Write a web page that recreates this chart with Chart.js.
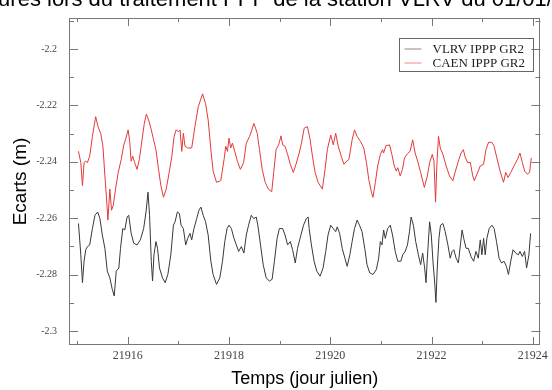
<!DOCTYPE html>
<html>
<head>
<meta charset="utf-8">
<script src="https://cdn.jsdelivr.net/npm/chart.js@4.4.1/dist/chart.umd.min.js"></script>
<style>
  html, body { margin: 0; padding: 0; background: #fff; }
  #wrap { width: 552px; height: 390px; overflow: hidden; }
</style>
</head>
<body>
<div id="wrap"><canvas id="ecarts" width="552" height="390"></canvas></div>
<script>
// series labels
var seriesNames = ['VLRV IPPP GR2', 'CAEN IPPP GR2'];
var seriesColors = ['#383838', '#e23a3a'];

// VLRV (black) - julian day / ecart (m)
var vlrvDays = [21915.027, 21915.073, 21915.106, 21915.137, 21915.171, 21915.204, 21915.249, 21915.302, 21915.353, 21915.406,
  21915.451, 21915.498, 21915.549, 21915.596, 21915.647, 21915.694, 21915.733, 21915.773, 21915.824, 21915.857,
  21915.902, 21915.941, 21915.988, 21916.020, 21916.067, 21916.118, 21916.184, 21916.249, 21916.314, 21916.361,
  21916.400, 21916.431, 21916.465, 21916.490, 21916.518, 21916.557, 21916.588, 21916.627, 21916.686, 21916.739,
  21916.792, 21916.851, 21916.902, 21916.935, 21916.980, 21917.020, 21917.053, 21917.098, 21917.145, 21917.184,
  21917.229, 21917.263, 21917.308, 21917.361, 21917.406, 21917.445, 21917.490, 21917.537, 21917.588, 21917.641,
  21917.686, 21917.753, 21917.818, 21917.871, 21917.916, 21917.961, 21918.000, 21918.047, 21918.098, 21918.145,
  21918.190, 21918.243, 21918.294, 21918.341, 21918.386, 21918.439, 21918.490, 21918.537, 21918.569, 21918.622,
  21918.675, 21918.733, 21918.798, 21918.851, 21918.896, 21918.949, 21918.994, 21919.059, 21919.106, 21919.157,
  21919.210, 21919.255, 21919.308, 21919.353, 21919.420, 21919.471, 21919.524, 21919.563, 21919.582, 21919.627,
  21919.680, 21919.733, 21919.798, 21919.857, 21919.910, 21919.955, 21920.008, 21920.059, 21920.106, 21920.137,
  21920.184, 21920.235, 21920.288, 21920.333, 21920.386, 21920.431, 21920.478, 21920.529, 21920.576, 21920.627,
  21920.680, 21920.725, 21920.778, 21920.843, 21920.910, 21920.955, 21920.988, 21921.020, 21921.053, 21921.086,
  21921.131, 21921.184, 21921.229, 21921.282, 21921.333, 21921.392, 21921.431, 21921.478, 21921.524, 21921.563,
  21921.596, 21921.641, 21921.686, 21921.739, 21921.784, 21921.824, 21921.863, 21921.890, 21921.916, 21921.961,
  21921.994, 21922.027, 21922.059, 21922.086, 21922.112, 21922.145, 21922.176, 21922.224, 21922.269, 21922.322,
  21922.367, 21922.406, 21922.439, 21922.484, 21922.529, 21922.569, 21922.602, 21922.635, 21922.680, 21922.725,
  21922.778, 21922.831, 21922.876, 21922.922, 21922.961, 21922.994, 21923.027, 21923.059, 21923.092, 21923.137,
  21923.190, 21923.235, 21923.282, 21923.333, 21923.380, 21923.431, 21923.478, 21923.518, 21923.563, 21923.608,
  21923.661, 21923.714, 21923.745, 21923.792, 21923.837, 21923.876, 21923.922, 21923.955];
var vlrvValues = [-2.2619, -2.2730, -2.2829, -2.2753, -2.2712, -2.2701, -2.2695, -2.2637, -2.2590, -2.2578,
  -2.2602, -2.2660, -2.2707, -2.2788, -2.2812, -2.2852, -2.2876, -2.2788, -2.2777, -2.2707,
  -2.2637, -2.2642, -2.2596, -2.2590, -2.2654, -2.2689, -2.2695, -2.2677, -2.2637, -2.2578,
  -2.2508, -2.2590, -2.2753, -2.2823, -2.2730, -2.2683, -2.2707, -2.2777, -2.2812, -2.2829,
  -2.2800, -2.2730, -2.2625, -2.2613, -2.2578, -2.2584, -2.2625, -2.2637, -2.2695, -2.2672,
  -2.2654, -2.2677, -2.2637, -2.2602, -2.2572, -2.2561, -2.2590, -2.2613, -2.2660, -2.2753,
  -2.2800, -2.2835, -2.2812, -2.2753, -2.2683, -2.2637, -2.2625, -2.2637, -2.2672, -2.2695,
  -2.2718, -2.2701, -2.2724, -2.2660, -2.2625, -2.2590, -2.2602, -2.2596, -2.2625, -2.2695,
  -2.2765, -2.2812, -2.2823, -2.2817, -2.2753, -2.2672, -2.2637, -2.2637, -2.2660, -2.2695,
  -2.2683, -2.2712, -2.2759, -2.2707, -2.2660, -2.2625, -2.2602, -2.2596, -2.2637, -2.2695,
  -2.2753, -2.2788, -2.2806, -2.2777, -2.2718, -2.2660, -2.2625, -2.2637, -2.2648, -2.2631,
  -2.2654, -2.2707, -2.2742, -2.2771, -2.2730, -2.2683, -2.2637, -2.2607, -2.2625, -2.2648,
  -2.2707, -2.2765, -2.2794, -2.2800, -2.2782, -2.2742, -2.2683, -2.2695, -2.2642, -2.2672,
  -2.2637, -2.2625, -2.2660, -2.2718, -2.2753, -2.2753, -2.2730, -2.2718, -2.2695, -2.2648,
  -2.2596, -2.2625, -2.2683, -2.2730, -2.2765, -2.2724, -2.2777, -2.2829, -2.2742, -2.2613,
  -2.2660, -2.2753, -2.2823, -2.2899, -2.2777, -2.2672, -2.2625, -2.2619, -2.2648, -2.2695,
  -2.2742, -2.2718, -2.2712, -2.2742, -2.2759, -2.2695, -2.2642, -2.2672, -2.2707, -2.2707,
  -2.2736, -2.2753, -2.2718, -2.2742, -2.2677, -2.2730, -2.2672, -2.2730, -2.2672, -2.2637,
  -2.2625, -2.2637, -2.2683, -2.2742, -2.2759, -2.2753, -2.2771, -2.2800, -2.2753, -2.2712,
  -2.2724, -2.2730, -2.2718, -2.2736, -2.2718, -2.2777, -2.2730, -2.2654];

// CAEN (red)
var caenDays = [21915.027, 21915.073, 21915.106, 21915.137, 21915.171, 21915.204, 21915.249, 21915.302, 21915.367, 21915.412,
  21915.465, 21915.510, 21915.549, 21915.582, 21915.608, 21915.647, 21915.680, 21915.714, 21915.759, 21915.812,
  21915.871, 21915.922, 21915.955, 21916.008, 21916.039, 21916.067, 21916.098, 21916.137, 21916.184, 21916.229,
  21916.282, 21916.327, 21916.367, 21916.412, 21916.465, 21916.510, 21916.557, 21916.608, 21916.655, 21916.706,
  21916.759, 21916.818, 21916.871, 21916.916, 21916.955, 21917.000, 21917.033, 21917.067, 21917.098, 21917.131,
  21917.184, 21917.263, 21917.327, 21917.392, 21917.478, 21917.537, 21917.588, 21917.641, 21917.686, 21917.753,
  21917.837, 21917.902, 21917.935, 21917.969, 21918.000, 21918.033, 21918.067, 21918.112, 21918.165, 21918.224,
  21918.288, 21918.341, 21918.406, 21918.451, 21918.490, 21918.524, 21918.557, 21918.602, 21918.655, 21918.714,
  21918.778, 21918.843, 21918.882, 21918.929, 21918.980, 21919.027, 21919.059, 21919.106, 21919.157, 21919.210,
  21919.269, 21919.322, 21919.386, 21919.431, 21919.484, 21919.549, 21919.602, 21919.647, 21919.700, 21919.759,
  21919.843, 21919.896, 21919.941, 21920.008, 21920.059, 21920.106, 21920.157, 21920.216, 21920.269, 21920.322,
  21920.367, 21920.431, 21920.478, 21920.529, 21920.596, 21920.661, 21920.714, 21920.759, 21920.812, 21920.843,
  21920.890, 21920.935, 21920.988, 21921.033, 21921.053, 21921.098, 21921.171, 21921.216, 21921.263, 21921.302,
  21921.333, 21921.380, 21921.425, 21921.465, 21921.524, 21921.576, 21921.627, 21921.675, 21921.725, 21921.784,
  21921.857, 21921.916, 21921.961, 21922.014, 21922.047, 21922.078, 21922.106, 21922.137, 21922.171, 21922.224,
  21922.288, 21922.353, 21922.420, 21922.471, 21922.529, 21922.582, 21922.627, 21922.667, 21922.714, 21922.765,
  21922.812, 21922.843, 21922.896, 21922.961, 21923.027, 21923.073, 21923.125, 21923.190, 21923.235, 21923.288,
  21923.353, 21923.420, 21923.465, 21923.510, 21923.563, 21923.627, 21923.694, 21923.745, 21923.792, 21923.837,
  21923.890, 21923.935, 21923.969];
var caenValues = [-2.2363, -2.2403, -2.2485, -2.2403, -2.2398, -2.2403, -2.2380, -2.2310, -2.2240, -2.2275,
  -2.2299, -2.2345, -2.2450, -2.2532, -2.2607, -2.2497, -2.2572, -2.2555, -2.2497, -2.2438,
  -2.2392, -2.2340, -2.2322, -2.2287, -2.2328, -2.2398, -2.2380, -2.2403, -2.2427, -2.2392,
  -2.2322, -2.2264, -2.2231, -2.2252, -2.2287, -2.2322, -2.2357, -2.2427, -2.2485, -2.2526,
  -2.2497, -2.2438, -2.2380, -2.2310, -2.2287, -2.2293, -2.2287, -2.2363, -2.2299, -2.2345,
  -2.2351, -2.2351, -2.2275, -2.2205, -2.2159, -2.2194, -2.2252, -2.2357, -2.2433, -2.2473,
  -2.2467, -2.2392, -2.2345, -2.2363, -2.2316, -2.2351, -2.2334, -2.2363, -2.2398, -2.2427,
  -2.2403, -2.2334, -2.2310, -2.2287, -2.2264, -2.2281, -2.2299, -2.2357, -2.2427, -2.2473,
  -2.2497, -2.2506, -2.2438, -2.2357, -2.2340, -2.2308, -2.2340, -2.2345, -2.2374, -2.2409,
  -2.2438, -2.2409, -2.2369, -2.2334, -2.2281, -2.2275, -2.2322, -2.2380, -2.2438, -2.2473,
  -2.2497, -2.2427, -2.2357, -2.2305, -2.2340, -2.2299, -2.2345, -2.2380, -2.2409, -2.2398,
  -2.2392, -2.2322, -2.2287, -2.2310, -2.2328, -2.2351, -2.2403, -2.2462, -2.2508, -2.2526,
  -2.2473, -2.2415, -2.2374, -2.2357, -2.2369, -2.2343, -2.2340, -2.2374, -2.2415, -2.2433,
  -2.2421, -2.2450, -2.2427, -2.2386, -2.2371, -2.2363, -2.2322, -2.2369, -2.2398, -2.2438,
  -2.2491, -2.2450, -2.2403, -2.2374, -2.2398, -2.2543, -2.2403, -2.2310, -2.2351, -2.2374,
  -2.2415, -2.2450, -2.2467, -2.2433, -2.2398, -2.2369, -2.2357, -2.2386, -2.2403, -2.2403,
  -2.2450, -2.2467, -2.2444, -2.2415, -2.2409, -2.2357, -2.2331, -2.2331, -2.2345, -2.2386,
  -2.2433, -2.2473, -2.2438, -2.2456, -2.2438, -2.2415, -2.2392, -2.2369, -2.2403, -2.2433,
  -2.2444, -2.2438, -2.2386];

// axes
var dayMin = 21914.84, dayMax = 21924.15;
var ecartMin = -2.305, ecartMax = -2.189;
var dayStep = 2, ecartStep = 0.02;

var titre = 'Ecarts des mesures lors du traitement PPP de la station VLRV du 01/01/2022 au 09/01/2022';
var titrePrefix = 'Ecarts des mesures ';

function toPoints(xs, ys) {
    return xs.map(function (x, i) { return { x: x, y: ys[i] }; });
}

// box, inward ticks (major + minor), legend and the clipped top title
var cadre = {
    id: 'cadre',
    afterDraw: function (chart) {
        var ctx = chart.ctx;
        var a = chart.chartArea;
        var xs = chart.scales.x, ys = chart.scales.y;
        ctx.save();
        ctx.strokeStyle = '#777';
        ctx.lineWidth = 1;
        ctx.strokeRect(Math.round(a.left) + 0.5, Math.round(a.top) + 0.5,
            Math.round(a.right - a.left) - 1, Math.round(a.bottom - a.top) - 1);

        ctx.beginPath();
        // x ticks, every day, long on the labelled ones
        for (var d = Math.ceil(dayMin); d <= dayMax; d++) {
            var px = Math.round(xs.getPixelForValue(d)) + 0.5;
            var len = (d % dayStep === 0) ? 8 : 4;
            ctx.moveTo(px, a.bottom); ctx.lineTo(px, a.bottom - len);
            ctx.moveTo(px, a.top); ctx.lineTo(px, a.top + len);
        }
        // y ticks, every 0.01
        for (var k = Math.ceil(ecartMin * 100); k <= Math.floor(ecartMax * 100); k++) {
            var py = Math.round(ys.getPixelForValue(k / 100)) + 0.5;
            var l2 = (k % 2 === 0) ? 9 : 5;
            ctx.moveTo(a.left, py); ctx.lineTo(a.left + l2, py);
            ctx.moveTo(a.right, py); ctx.lineTo(a.right - l2, py);
        }
        ctx.stroke();

        // legend
        var bx = Math.round(a.right - 141) + 0.5, by = Math.round(a.top + 20) + 0.5;
        ctx.strokeStyle = '#666';
        ctx.strokeRect(bx, by, 134, 33);
        ctx.font = '13px "Liberation Serif", "Times New Roman", serif';
        ctx.textBaseline = 'middle';
        chart.data.datasets.forEach(function (ds, i) {
            var ly = by + 10.5 + i * 14;
            ctx.strokeStyle = ds.borderColor;
            ctx.globalAlpha = 0.6;
            ctx.beginPath();
            ctx.moveTo(bx + 5, ly); ctx.lineTo(bx + 22, ly);
            ctx.stroke();
            ctx.globalAlpha = 1;
            ctx.fillStyle = '#222';
            ctx.fillText(ds.label, bx + 33, ly + 0.5);
        });

        // title, mostly above the visible area
        ctx.font = '22px "Liberation Sans", Arial, sans-serif';
        ctx.fillStyle = '#000';
        ctx.textBaseline = 'alphabetic';
        ctx.textAlign = 'left';
        var w = ctx.measureText(titrePrefix).width;
        ctx.fillText(titre, 47 - w, 6);
        ctx.restore();
    }
};

var ctx = document.getElementById('ecarts').getContext('2d');
var myChart = new Chart(ctx, {
    type: 'line',
    data: {
        datasets: [{
            label: seriesNames[0],
            data: toPoints(vlrvDays, vlrvValues),
            borderColor: seriesColors[0],
            borderWidth: 1,
            pointRadius: 0,
            tension: 0
        }, {
            label: seriesNames[1],
            data: toPoints(caenDays, caenValues),
            borderColor: seriesColors[1],
            borderWidth: 1,
            pointRadius: 0,
            tension: 0
        }]
    },
    options: {
        responsive: false,
        animation: false,
        layout: { padding: { top: 14, right: 8, left: 0, bottom: 0 } },
        plugins: {
            legend: { display: false },
            tooltip: { enabled: false }
        },
        scales: {
            x: {
                type: 'linear',
                min: dayMin,
                max: dayMax,
                afterFit: function (s) { s.height = 45; },
                grid: { display: false, drawTicks: false },
                border: { display: false },
                ticks: {
                    stepSize: dayStep,
                    includeBounds: false,
                    autoSkip: false,
                    maxRotation: 0,
                    padding: 4,
                    color: '#444',
                    font: { family: '"Liberation Serif", "Times New Roman", serif', size: 12 },
                    callback: function (v) { return String(v); }
                },
                title: {
                    display: true,
                    text: 'Temps (jour julien)',
                    color: '#000',
                    font: { family: '"Liberation Sans", Arial, sans-serif', size: 18 },
                    padding: { top: 0, bottom: 0 }
                }
            },
            y: {
                min: ecartMin,
                max: ecartMax,
                afterFit: function (s) { s.width = 69; },
                grid: { display: false, drawTicks: false },
                border: { display: false },
                ticks: {
                    stepSize: ecartStep,
                    includeBounds: false,
                    padding: 12,
                    color: '#444',
                    font: { family: '"Liberation Serif", "Times New Roman", serif', size: 10 },
                    callback: function (v) { return String(+v.toFixed(2)); }
                },
                title: {
                    display: true,
                    text: 'Ecarts (m)',
                    color: '#000',
                    font: { family: '"Liberation Sans", Arial, sans-serif', size: 19 },
                    padding: { top: 9, bottom: 0 }
                }
            }
        }
    },
    plugins: [cadre]
});
</script>
</body>
</html>
